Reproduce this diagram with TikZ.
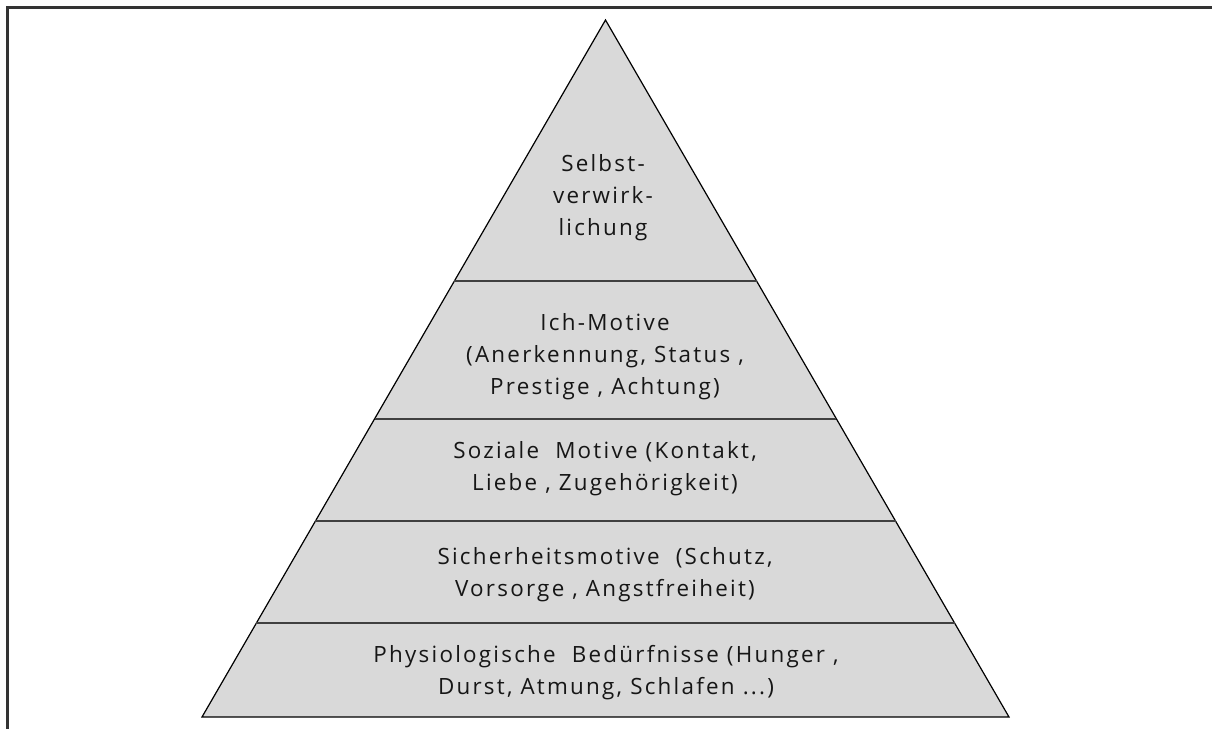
\documentclass[tikz,border=0pt]{standalone}
\usepackage{fontspec}
\setmainfont{Open Sans}[LetterSpace=10]
\usetikzlibrary{calc}
\definecolor{stufe}{HTML}{D9D9D9}
\definecolor{schrift}{HTML}{161616}
\begin{document}
\begin{tikzpicture}[x=0.5pt, y=-0.5pt,
    level/.style={align=center, text=schrift, font=\fontsize{11.2}{16}\selectfont},
    divider/.style={draw=black!75, line width=0.9pt}]
\useasboundingbox (0,0) rectangle (1212,729);
\draw[line width=1.3pt, black!80] (7.5,729) -- (7.5,7.5) -- (1212,7.5);
\coordinate (top) at (605.5,20);
\coordinate (bl) at (202,717);
\coordinate (br) at (1009,717);
\filldraw[fill=stufe, draw=black, line width=0.6pt] (top) -- (bl) -- (br) -- cycle;
% Trennlinien zwischen den Stufen
\foreach \y in {281,419,521,623}
  \draw[divider] ($(top)!{(\y-20)/697}!(bl)$) -- ($(top)!{(\y-20)/697}!(br)$);
\node[level] (selbst) at (603,198) {Selbst-\\verwirk-\\lichung};
\node[level] (ich) at (605,357) {Ich-Motive\\(Anerkennung, Status ,\\Prestige , Achtung)};
\node[level] (sozial) at (605,469) {Soziale\ \ Motive (Kontakt,\\Liebe , Zugehörigkeit)};
\node[level] (sicher) at (605,575) {Sicherheitsmotive\ \ (Schutz,\\Vorsorge , Angstfreiheit)};
\node[level] (physio) at (606,673) {Physiologische\ \ Bedürfnisse (Hunger ,\\Durst, Atmung, Schlafen ...)};
\end{tikzpicture}
\end{document}
